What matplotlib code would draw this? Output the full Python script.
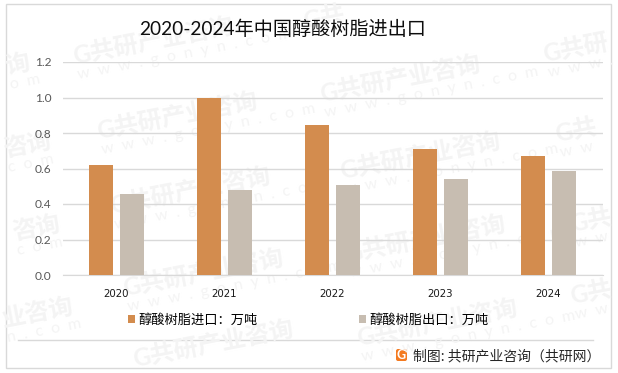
import matplotlib
matplotlib.use("Agg")
import matplotlib.pyplot as plt
from matplotlib.patches import FancyBboxPatch, Rectangle

plt.rcParams['font.family'] = ['Lato', 'Noto Sans CJK SC', 'DejaVu Sans']

years = ["2020", "2021", "2022", "2023", "2024"]
imports = [0.62, 1.0, 0.845, 0.71, 0.67]
exports = [0.456, 0.48, 0.507, 0.54, 0.586]
y_ticks = [0.0, 0.2, 0.4, 0.6, 0.8, 1.0, 1.2]

title = "2020-2024年中国醇酸树脂进出口"
import_label = "醇酸树脂进口：万吨"
export_label = "醇酸树脂出口：万吨"
source = "制图: 共研产业咨询（共研网）"
wm_full = "G共研产业咨询"
site_full = "w  w  w  .  g  o  n  y  n  .  c  o  m"

# repeated watermark: left end in pixels from the top left, then the part of it that shows
wm_marks = [
    (73, 57, wm_full, site_full),
    (97, 132, wm_full, site_full),
    (320, 95, wm_full, site_full),
    (340, 172, wm_full, site_full),
    (110, 207, wm_full, site_full),
    (123, 289, wm_full, site_full),
    (345, 255, wm_full, site_full),
    (357, 339, wm_full, site_full),
    (133, 360, wm_full, ""),
    (543, 55, "G共研", "w  w  w  ."),
    (555, 135, "G共", "w  w"),
    (570, 225, "G共", "w  w"),
    (570, 297, "G共", "w  w"),
    (303, 22, "G共", ""),
    (5, 67, "询", "o  m"),
    (3, 150, "咨询", "c  o  m"),
    (12, 233, "咨询", "c  o  m"),
    (2, 320, "业咨询", "n  .  c  o  m"),
]

W, H = 618, 373
fig = plt.figure(figsize=(W / 100, H / 100), dpi=100)
fig.patch.set_facecolor("white")

# whole figure overlay in pixel coordinates, y going down
bg = fig.add_axes([0, 0, 1, 1], zorder=0)
bg.set_xlim(0, W)
bg.set_ylim(H, 0)
bg.axis("off")

bg.add_patch(Rectangle((5.5, 3.5), 605, 364, fill=False, ec="#d9d9d9", lw=1))
bg.plot([18, 593], [339.5, 339.5], color="#d9d9d9", lw=1)

for x0, y0, name, site in wm_marks:
    bg.text(x0, y0, name, color="#f4f4f4", fontsize=17.5, fontweight="bold",
            rotation=11, rotation_mode="anchor", va="center")
    if site:
        bg.text(x0 + 5, y0 + 18, site, color="#f4f4f4", fontsize=11.5,
                rotation=11, rotation_mode="anchor", va="center")

ax = fig.add_axes([62.5 / W, 1 - 275 / H, 540 / W, 213 / H], zorder=1)
ax.patch.set_alpha(0)

pos = range(len(years))
bar_w = 0.222
ax.bar([p - 0.1435 for p in pos], imports, bar_w, color="#d38c4e", label=import_label, zorder=3)
ax.bar([p + 0.1435 for p in pos], exports, bar_w, color="#c7bdb1", label=export_label, zorder=3)

ax.set_xlim(-0.5, 4.5)
ax.set_ylim(0, 1.2)
ax.set_yticks(y_ticks)
ax.set_yticklabels([f"{v:.1f}" for v in y_ticks], color="#595959", fontsize=8.6)
ax.set_xticks(list(pos))
ax.set_xticklabels(years, color="#1a1a1a", fontsize=7.4, family=["DejaVu Sans"])
ax.tick_params(axis="both", length=0)
ax.tick_params(axis="y", pad=8)
ax.tick_params(axis="x", pad=10)
ax.grid(axis="y", color="#d9d9d9", lw=1, zorder=1)
ax.set_axisbelow(True)
for side in ["top", "right", "left"]:
    ax.spines[side].set_visible(False)
ax.spines["bottom"].set_color("#d9d9d9")

fig.text(282.5 / W, 1 - 29 / H, title, color="#0d0d0d", fontsize=13.8, ha="center", va="center")

ax.legend(loc="center", bbox_to_anchor=(308.5 / W, 1 - 320.5 / H), bbox_transform=fig.transFigure,
          ncol=2, frameon=False, handlelength=0.55, handleheight=0.55,
          handletextpad=0.25, columnspacing=7.65, borderpad=0,
          prop={"family": ["Noto Sans CJK SC"], "size": 9.5})

bg.add_patch(FancyBboxPatch((397, 350), 9, 10, boxstyle="round,pad=1,rounding_size=2",
                            fc="#f47a20", ec="none"))
bg.text(401.5, 355, "G", color="white", fontsize=9, fontweight="bold", ha="center", va="center")
bg.text(413, 356, source, color="#262626", fontsize=10, va="center",
        family=["Noto Sans CJK SC"])

fig.savefig("out.png", dpi=100)
